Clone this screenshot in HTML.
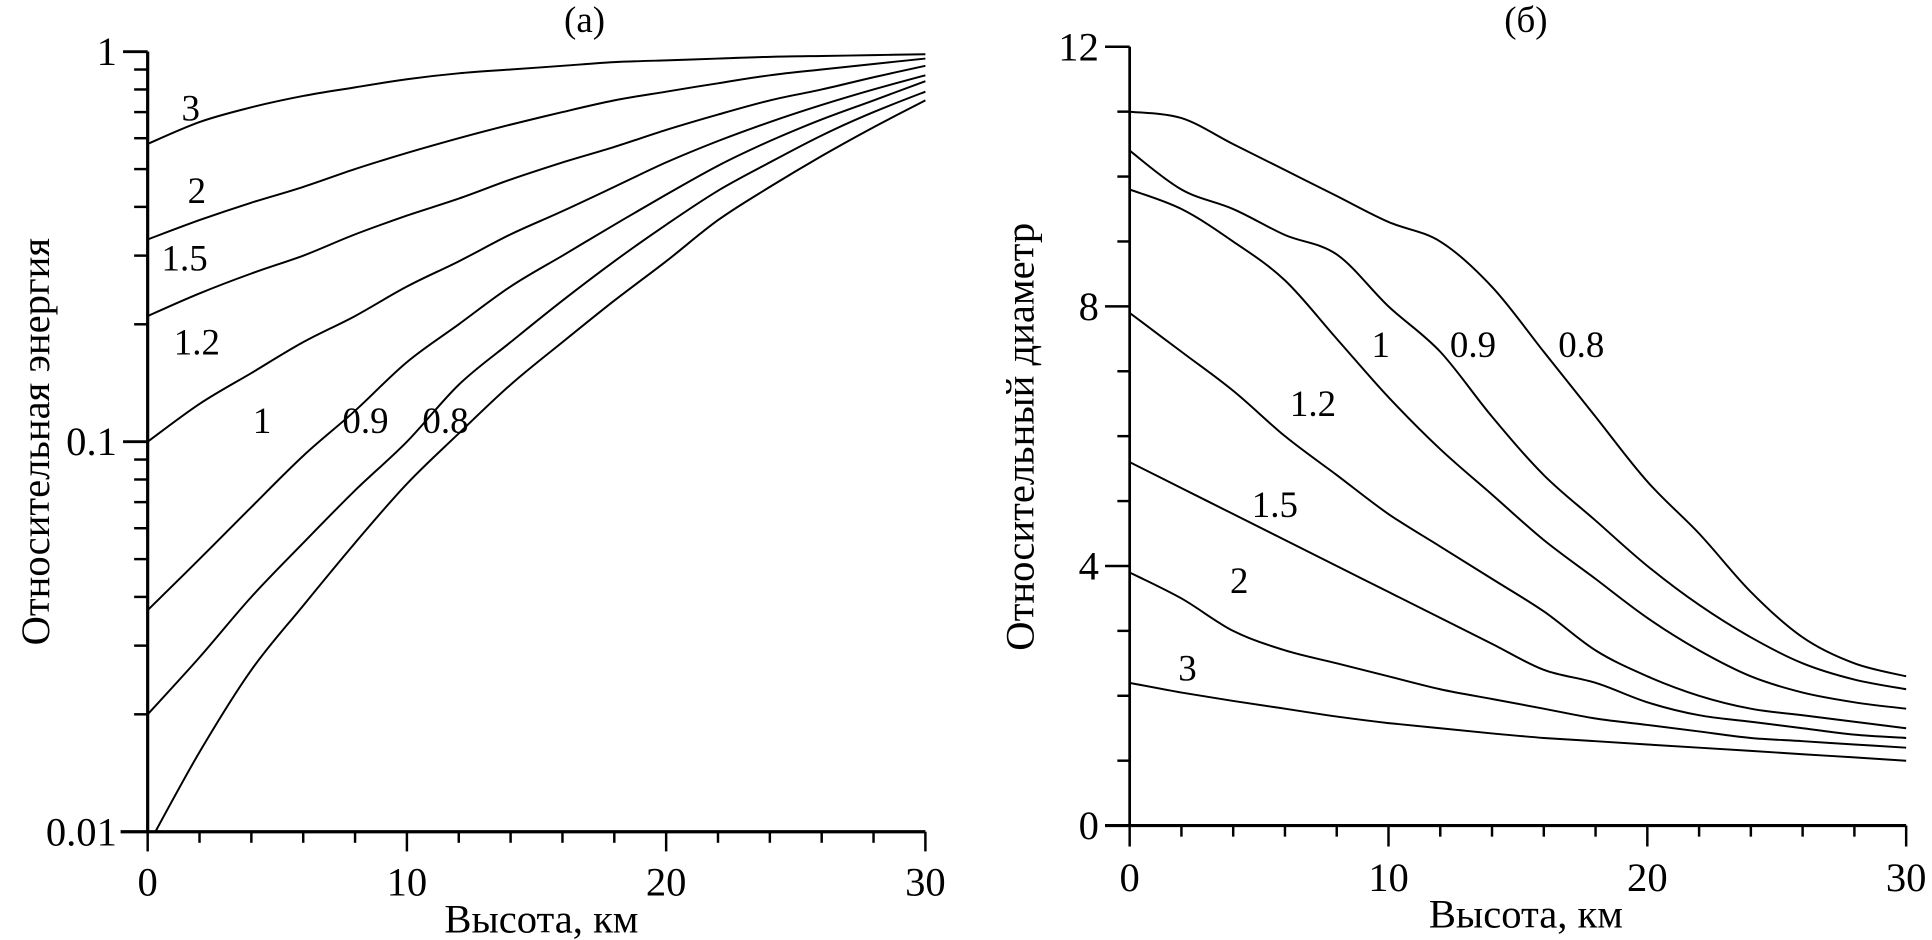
<!DOCTYPE html>
<html><head><meta charset="utf-8"><style>
html,body{margin:0;padding:0;background:#fff;}
svg{display:block;}
text{font-family:"Liberation Serif",serif;fill:#000;}
</style></head><body>
<svg id="chart" width="1932" height="940" viewBox="0 0 1570 764" preserveAspectRatio="none" xmlns="http://www.w3.org/2000/svg">
<defs>
<clipPath id="clipA"><rect x="120" y="30" width="640" height="646"/></clipPath>
<clipPath id="clipB"><rect x="918" y="30" width="640" height="641"/></clipPath>
</defs>
<g id="gA"></g>
<g id="gB"></g>
</svg>
<script>
const xs = [0,2,4,6,8,10,12,14,16,18,20,22,24,26,28,30];
const seriesNames = ["3","2","1.5","1.2","1","0.9","0.8"];
const energy3 = [0.58,0.66,0.72,0.77,0.81,0.85,0.88,0.90,0.92,0.94,0.95,0.96,0.97,0.975,0.98,0.985];
const energy2 = [0.33,0.37,0.41,0.45,0.50,0.55,0.60,0.65,0.70,0.75,0.79,0.83,0.87,0.90,0.93,0.96];
const energy15 = [0.21,0.24,0.27,0.30,0.34,0.38,0.42,0.47,0.52,0.57,0.63,0.69,0.75,0.80,0.86,0.92];
const energy12 = [0.10,0.125,0.15,0.18,0.21,0.25,0.29,0.34,0.39,0.45,0.52,0.59,0.66,0.73,0.80,0.87];
const energy1 = [0.037,0.050,0.068,0.092,0.12,0.16,0.20,0.25,0.30,0.36,0.43,0.51,0.59,0.67,0.75,0.84];
const energy09 = [0.020,0.028,0.040,0.055,0.075,0.10,0.14,0.18,0.23,0.29,0.36,0.44,0.52,0.61,0.70,0.79];
const energy08 = [0.0092,0.016,0.026,0.038,0.055,0.078,0.105,0.14,0.18,0.23,0.29,0.37,0.45,0.54,0.64,0.75];
const diam3 = [2.2,2.05,1.92,1.8,1.68,1.58,1.5,1.42,1.35,1.3,1.25,1.2,1.15,1.1,1.05,1.0];
const diam2 = [3.9,3.5,3.0,2.7,2.5,2.3,2.1,1.95,1.8,1.65,1.55,1.45,1.35,1.3,1.25,1.2];
const diam15 = [5.6,5.2,4.8,4.4,4.0,3.6,3.2,2.8,2.4,2.2,1.9,1.7,1.6,1.5,1.4,1.35];
const diam12 = [7.9,7.3,6.7,6.0,5.4,4.8,4.3,3.8,3.3,2.7,2.3,2.0,1.8,1.7,1.6,1.5];
const diam1 = [9.8,9.5,9.0,8.4,7.5,6.6,5.8,5.1,4.4,3.8,3.2,2.7,2.3,2.05,1.9,1.8];
const diam09 = [10.4,9.8,9.5,9.1,8.8,8.0,7.3,6.3,5.4,4.7,4.0,3.4,2.9,2.5,2.25,2.1];
const diam08 = [11.0,10.9,10.5,10.1,9.7,9.3,9.0,8.3,7.3,6.3,5.3,4.5,3.6,2.9,2.5,2.3];
const xTicks = [0,10,20,30];
const yTicksA = [1,0.1,0.01];
const yTicksB = [0,4,8,12];

const NS="http://www.w3.org/2000/svg";
function mk(parent,tag,attrs,txt){const e=document.createElementNS(NS,tag);for(const k in attrs)e.setAttribute(k,attrs[k]);if(txt!==undefined)e.textContent=txt;parent.appendChild(e);return e;}
const xA=v=>120+v*(752-120)/30;
const yA=v=>42+(-Math.log10(v))*317;
const xB=v=>918+v*(1549-918)/30;
const yB=v=>671-v*(671-38)/12;
function pathD(xf,yf,vals){return vals.map((v,i)=>(i?'L':'M')+xf(xs[i]).toFixed(1)+','+yf(v).toFixed(1)).join(' ');}
function smooth(xf,yf,vals){
  const p=vals.map((v,i)=>[xf(xs[i]),yf(v)]);
  let d='M'+p[0][0].toFixed(1)+','+p[0][1].toFixed(1);
  for(let i=0;i<p.length-1;i++){
    const p0=p[i-1]||p[i],p1=p[i],p2=p[i+1],p3=p[i+2]||p2;
    const c1=[p1[0]+(p2[0]-p0[0])/6,p1[1]+(p2[1]-p0[1])/6];
    const c2=[p2[0]-(p3[0]-p1[0])/6,p2[1]-(p3[1]-p1[1])/6];
    d+=' C'+c1.map(n=>n.toFixed(1)).join(',')+' '+c2.map(n=>n.toFixed(1)).join(',')+' '+p2[0].toFixed(1)+','+p2[1].toFixed(1);
  }
  return d;
}
// Panel A
const gA=document.getElementById('gA');
const seriesA=[energy3,energy2,energy15,energy12,energy1,energy09,energy08];
const curvesA=mk(gA,'g',{'clip-path':'url(#clipA)'});
seriesA.forEach((s,i)=>{
  const p=mk(curvesA,'path',{d:smooth(xA,yA,s),fill:'none',stroke:'#000','stroke-width':1.6});
  
  
});
let ax=mk(gA,'line',{x1:120,y1:42,x2:120,y2:676,stroke:'#000','stroke-width':2.6});

ax=mk(gA,'line',{x1:98,y1:676,x2:752,y2:676,stroke:'#000','stroke-width':2.6});

mk(gA,'line',{x1:100,y1:42,x2:120,y2:42,stroke:'#000','stroke-width':2.4});
mk(gA,'line',{x1:100,y1:359,x2:120,y2:359,stroke:'#000','stroke-width':2.4});
for(let dec=0;dec<2;dec++){for(let m=2;m<=9;m++){const v=Math.pow(10,-2+dec)*m;mk(gA,'line',{x1:109,y1:yA(v),x2:120,y2:yA(v),stroke:'#000','stroke-width':2});}}
for(let k=0;k<=30;k+=2){const big=k%10===0;mk(gA,'line',{x1:xA(k),y1:676,x2:xA(k),y2:big?692:685,stroke:'#000','stroke-width':2});}
xTicks.forEach(t=>{const e=mk(gA,'text',{x:xA(t),y:728,'font-size':33,'text-anchor':'middle'},String(t));});
yTicksA.forEach(t=>{const e=mk(gA,'text',{x:95,y:yA(t)+11,'font-size':33,'text-anchor':'end'},String(t));});
let t=mk(gA,'text',{x:440,y:758,'font-size':33,'text-anchor':'middle'},'Высота, км');
t=mk(gA,'text',{x:0,y:0,'font-size':33,'text-anchor':'middle',transform:'translate(40,359) rotate(-90)'},'Относительная энергия');
t=mk(gA,'text',{x:475,y:26,'font-size':30,'text-anchor':'middle'},'(a)');
const labA=[[155,98],[160,165],[150,220],[160,288],[213,352],[297,352],[362,352]];
labA.forEach((p,i)=>{const e=mk(gA,'text',{x:p[0],y:p[1],'font-size':30,'text-anchor':'middle'},seriesNames[i]);});
// Panel B
const gB=document.getElementById('gB');
const seriesB=[diam3,diam2,diam15,diam12,diam1,diam09,diam08];
const curvesB=mk(gB,'g',{'clip-path':'url(#clipB)'});
seriesB.forEach((s,i)=>{
  const p=mk(curvesB,'path',{d:smooth(xB,yB,s),fill:'none',stroke:'#000','stroke-width':1.6});
  
  
});
ax=mk(gB,'line',{x1:918,y1:38,x2:918,y2:671,stroke:'#000','stroke-width':2.2});

ax=mk(gB,'line',{x1:898,y1:671,x2:1549,y2:671,stroke:'#000','stroke-width':2.6});

for(let v=0;v<=12;v++){const big=v%4===0;mk(gB,'line',{x1:big?898:908,y1:yB(v),x2:918,y2:yB(v),stroke:'#000','stroke-width':2});}
for(let k=0;k<=30;k+=2){const big=k%10===0;mk(gB,'line',{x1:xB(k),y1:671,x2:xB(k),y2:big?688:680,stroke:'#000','stroke-width':2});}
xTicks.forEach(v=>{const e=mk(gB,'text',{x:xB(v),y:724,'font-size':33,'text-anchor':'middle'},String(v));});
yTicksB.forEach(v=>{const e=mk(gB,'text',{x:893,y:yB(v)+11,'font-size':33,'text-anchor':'end'},String(v));});
t=mk(gB,'text',{x:1240,y:754,'font-size':33,'text-anchor':'middle'},'Высота, км');
t=mk(gB,'text',{x:0,y:0,'font-size':33,'text-anchor':'middle',transform:'translate(840,355) rotate(-90)'},'Относительный диаметр');
t=mk(gB,'text',{x:1240,y:26,'font-size':30,'text-anchor':'middle'},'(б)');
const labB=[[965,553],[1007,482],[1036,420],[1067,338],[1122,290],[1197,290],[1285,290]];
labB.forEach((p,i)=>{const e=mk(gB,'text',{x:p[0],y:p[1],'font-size':30,'text-anchor':'middle'},seriesNames[i]);});
</script>
</body></html>
